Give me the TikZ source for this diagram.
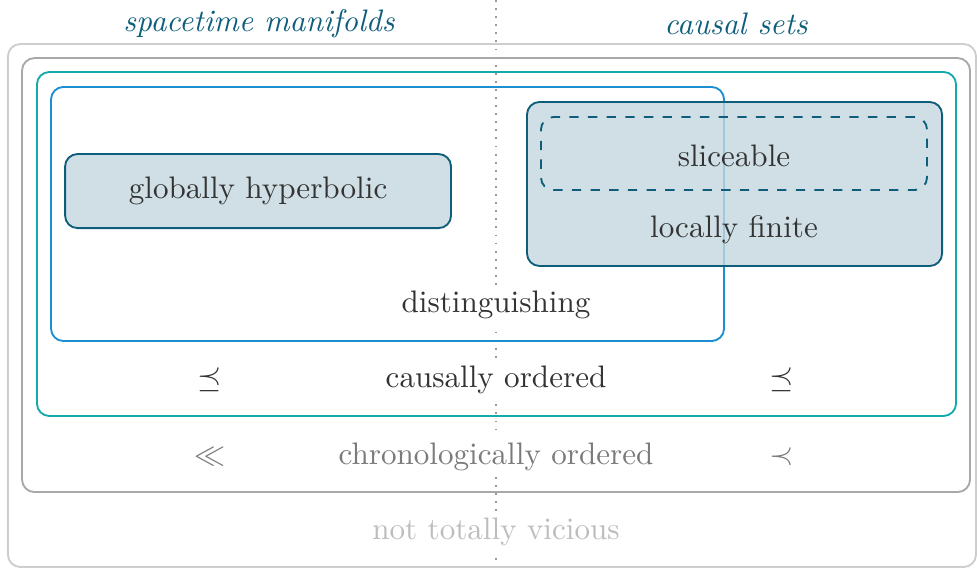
\documentclass[tikz,border=0pt]{standalone}
\usepackage{amsmath}
\usepackage{amssymb}
\usepackage{tikz}
\usepackage{xcolor}

\definecolor{setteal}{HTML}{0E5E7B}
\definecolor{causalteal}{HTML}{14A9AB}
\definecolor{distblue}{HTML}{1B8FD2}
\definecolor{chronogrey}{HTML}{A8A8A8}
\definecolor{viciousgrey}{HTML}{CDCDCD}
\definecolor{textdark}{HTML}{333333}
\definecolor{chronotext}{HTML}{7A7A7A}
\definecolor{vicioustext}{HTML}{BDBDBD}

\begin{document}
\begin{tikzpicture}[
    region/.style={rectangle, rounded corners=4pt, draw, semithick, inner sep=0pt},
    subset/.style={region, draw=setteal, fill=setteal!25, fill opacity=0.8, text opacity=1},
    tag/.style={fill=white, inner sep=2pt, text=textdark},
    title/.style={text=setteal, font=\itshape},
    divider/.style={dotted, line width=0.6pt, gray!80}
]
\useasboundingbox (0,0) rectangle (11.04,6.43);

% Divider between the two columns
\coordinate (div_top) at (5.6,6.43);
\coordinate (div_bot) at (5.6,0);
\draw[divider] (div_top) -- (div_bot);

% Column titles
\node[title] (title_st) at (2.927,6.16) {spacetime manifolds};
\node[title] (title_cs) at (8.317,6.16) {causal sets};

% Nested regions
\node[region, draw=viciousgrey, minimum width=10.939cm, minimum height=5.910cm] (vicious) at (5.559,2.978) {};
\node[region, draw=chronogrey, minimum width=10.712cm, minimum height=4.904cm] (chrono) at (5.605,3.322) {};
\node[region, draw=causalteal, minimum width=10.385cm, minimum height=3.887cm] (causal) at (5.610,3.673) {};
\node[region, draw=distblue, minimum width=7.605cm, minimum height=2.871cm] (disting) at (4.379,4.012) {};

% Subclasses
\node[subset, minimum width=4.361cm, minimum height=0.837cm, text=textdark] (globhyp) at (2.916,4.271) {globally hyperbolic};
\node[subset, minimum width=4.690cm, minimum height=1.853cm] (locfin) at (8.300,4.351) {};
\node[region, draw=setteal, dashed, minimum width=4.362cm, minimum height=0.825cm] (slice) at (8.294,4.695) {};
\node[text=textdark] (slice_txt) at (8.294,4.67) {sliceable};
\node[text=textdark] (locfin_txt) at (8.294,3.835) {locally finite};

% Region labels
\node[tag] (disting_txt) at (5.605,2.986) {distinguishing};
\node[tag] (causal_txt) at (5.605,2.138) {causally ordered};
\node[text=textdark] (causal_st) at (2.373,2.138) {$\preceq$};
\node[text=textdark] (causal_cs) at (8.837,2.138) {$\preceq$};
\node[tag, text=chronotext] (chrono_txt) at (5.605,1.268) {chronologically ordered};
\node[text=chronotext] (chrono_st) at (2.373,1.268) {$\ll$};
\node[text=chronotext] (chrono_cs) at (8.837,1.268) {$\prec$};
\node[tag, text=vicioustext] (vicious_txt) at (5.605,0.421) {not totally vicious};

\end{tikzpicture}
\end{document}
